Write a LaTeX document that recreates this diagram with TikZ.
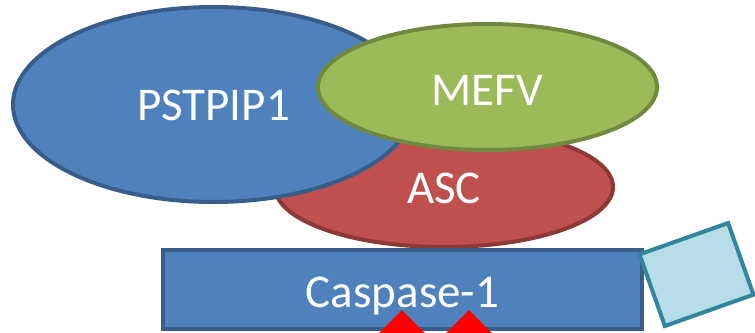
\documentclass[tikz,border=0pt]{standalone}
\usepackage{fontspec}
\setmainfont{Carlito}
\usetikzlibrary{shapes.geometric}
\definecolor{pblue}{HTML}{4F81BD}
\definecolor{pbluedk}{HTML}{385D8A}
\definecolor{mgreen}{HTML}{9BBB59}
\definecolor{mgreendk}{HTML}{71893F}
\definecolor{ared}{HTML}{C0504D}
\definecolor{areddk}{HTML}{8C3836}
\definecolor{sqfill}{HTML}{B7DEE8}
\definecolor{sqdk}{HTML}{31859C}
\tikzset{
  blob/.style={ellipse, inner sep=0pt, line width=4pt, text=white,
    font=\fontsize{47}{56}\selectfont, text depth=0pt},
  casp/.style={rectangle, inner sep=0pt, line width=4pt, draw=pbluedk, fill=pblue,
    text=white, font=\fontsize{47}{56}\selectfont, text depth=0pt},
  tilt/.style={rectangle, inner sep=0pt, line width=4pt, draw=sqdk, fill=sqfill},
  redmark/.style={diamond, aspect=1, inner sep=0pt, minimum width=60pt, minimum height=60pt, fill=red}
}
\begin{document}
\begin{tikzpicture}[x=1pt,y=-1pt]
\useasboundingbox (0,0) rectangle (755,332);
\clip (0,0) rectangle (755,332);
\node[blob, fill=ared, draw=areddk, minimum width=338pt, minimum height=120pt, text height=32pt] (asc) at (444,187) {ASC};
\node[blob, fill=pblue, draw=pbluedk, minimum width=401pt, minimum height=195pt, text height=31pt] (pstpip) at (213.5,104.5) {PSTPIP1};
\node[blob, fill=mgreen, draw=mgreendk, minimum width=339pt, minimum height=126pt, text height=36pt] (mefv) at (487.5,87) {MEFV};
\node[casp, minimum width=479pt, minimum height=79pt, text height=35pt] (casp1) at (402.5,289.5) {Caspase-1};
\node[tilt, minimum width=94pt, minimum height=76pt, rotate=19.5] (sq) at (696.5,274.5) {};
\node[redmark] (d1) at (402,340) {};
\node[redmark] (d2) at (469,340) {};
\end{tikzpicture}
\end{document}
